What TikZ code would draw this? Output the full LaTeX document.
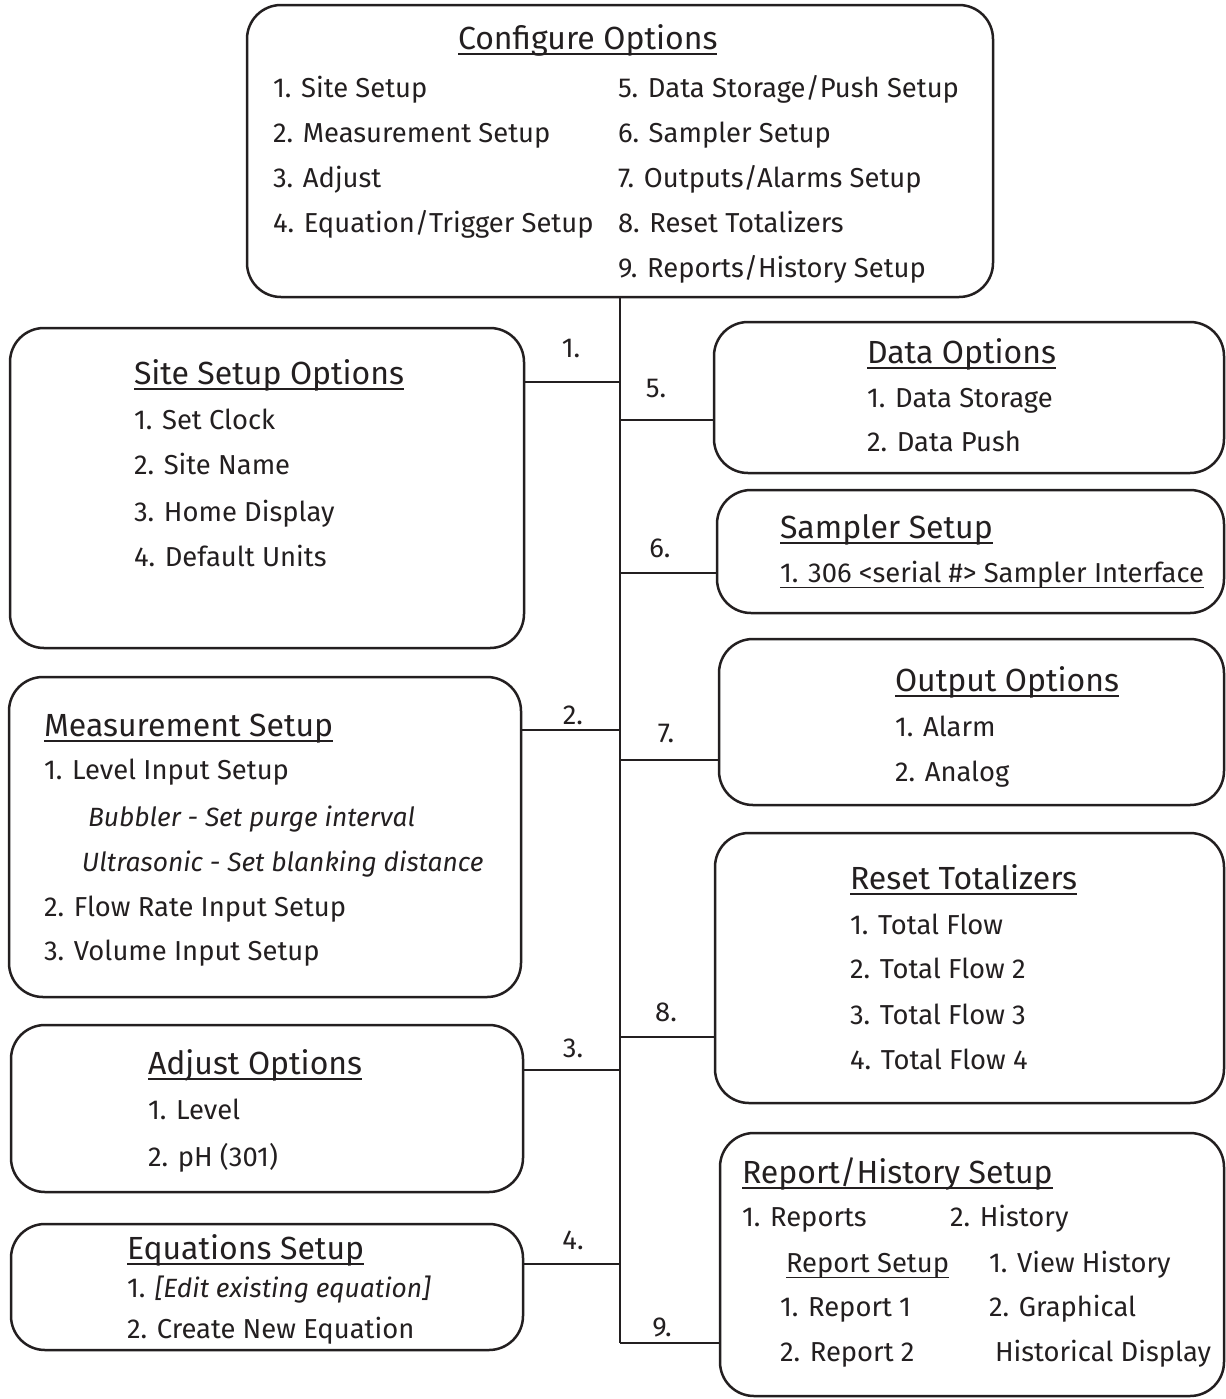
\documentclass[tikz,border=0pt]{standalone}
\usepackage{fontspec}
\setmainfont{Fira Sans}
\definecolor{ink}{HTML}{231F20}
\newcommand\myul[1]{\setbox0\hbox{#1}\rlap{\color{ink}\rule[-2.9pt]{\wd0}{0.75pt}}\box0}
\newcommand\bodyf{\fontsize{13.7}{16}\selectfont}
\newcommand\itf{\fontsize{13.2}{16}\selectfont\itshape}
\newcommand\ttlf{\fontsize{16}{18}\selectfont}
\tikzset{
  box/.style={draw=ink, line width=1.25pt, rounded corners=17pt, inner sep=0pt, outer sep=0pt},
  txt/.style={anchor=west, inner sep=0pt, outer sep=0pt, text height=9.4pt, text depth=0pt, font=\bodyf, text=ink},
  ttl/.style={anchor=west, inner sep=0pt, outer sep=0pt, text height=11pt, text depth=0pt, font=\ttlf, text=ink},
  lbl/.style={anchor=center, inner sep=0pt, outer sep=0pt, text height=9.4pt, text depth=0pt, font=\bodyf, text=ink},
  conn/.style={draw=ink, line width=1pt}
}
\begin{document}
\begin{tikzpicture}[x=0.5pt,y=-0.5pt]
\useasboundingbox (0,0) rectangle (1226,1399);
% boxes
\node[box, minimum width=373pt, minimum height=146pt] (cfg) at (620,151) {};
\node[box, minimum width=257pt, minimum height=160pt] (site) at (267,488) {};
\node[box, minimum width=256pt, minimum height=160pt] (meas) at (265,837) {};
\node[box, minimum width=256pt, minimum height=83.5pt] (adj) at (267,1108.5) {};
\node[box, minimum width=256pt, minimum height=63pt] (eq) at (267,1287) {};
\node[box, minimum width=255pt, minimum height=75.5pt] (data) at (969,397.5) {};
\node[box, minimum width=253.5pt, minimum height=61.5pt] (samp) at (970.5,551.5) {};
\node[box, minimum width=252.5pt, minimum height=83pt] (out) at (971.5,722) {};
\node[box, minimum width=254.5pt, minimum height=135pt] (reset) at (969.5,968) {};
\node[box, minimum width=252pt, minimum height=131.5pt] (rep) at (972,1264.5) {};
% trunk and junctions
\coordinate (tend) at (620,1343);
\coordinate (j1) at (620,382);
\coordinate (j2) at (620,730);
\coordinate (j3) at (620,1070);
\coordinate (j4) at (620,1264);
\coordinate (j5) at (620,420);
\coordinate (j6) at (620,573);
\coordinate (j7) at (620,760);
\coordinate (j8) at (620,1037);
\coordinate (j9) at (620,1343);
\draw[conn] (cfg.south) -- (tend);
\draw[conn] (site.east |- j1) -- (j1);
\draw[conn] (meas.east |- j2) -- (j2);
\draw[conn] (adj.east |- j3) -- (j3);
\draw[conn] (eq.east |- j4) -- (j4);
\draw[conn] (j5) -- (data.west |- j5);
\draw[conn] (j6) -- (samp.west |- j6);
\draw[conn] (j7) -- (out.west |- j7);
\draw[conn] (j8) -- (reset.west |- j8);
\draw[conn] (j9) -- (rep.west |- j9);
% labels
\node[lbl] (l1) at (571,348) {1.};
\node[lbl] (l2) at (573,715) {2.};
\node[lbl] (l3) at (573,1048) {3.};
\node[lbl] (l4) at (573,1240) {4.};
\node[lbl] (l5) at (656,388) {5.};
\node[lbl] (l6) at (660,548) {6.};
\node[lbl] (l7) at (666,733) {7.};
\node[lbl] (l8) at (666,1012) {8.};
\node[lbl] (l9) at (662,1327) {9.};
% configure
\node[ttl] (cfgt) at (458,38) {\myul{Configure Options}};
\node[txt] (c1) at (273,88) {1. Site Setup};
\node[txt] (c2) at (273,133) {2. Measurement Setup};
\node[txt] (c3) at (273,178) {3. Adjust};
\node[txt] (c4) at (273,223) {4. Equation/Trigger Setup};
\node[txt] (c5) at (618,88) {5. Data Storage/Push Setup};
\node[txt] (c6) at (618,133) {6. Sampler Setup};
\node[txt] (c7) at (618,178) {7. Outputs/Alarms Setup};
\node[txt] (c8) at (618,223) {8. Reset Totalizers};
\node[txt] (c9) at (618,268) {9. Reports/History Setup};
% site
\node[ttl] (sitet) at (134,373) {\myul{Site Setup Options}};
\node[txt] (s1) at (134,420) {1. Set Clock};
\node[txt] (s2) at (134,465) {2. Site Name};
\node[txt] (s3) at (134,512) {3. Home Display};
\node[txt] (s4) at (134,557) {4. Default Units};
% measurement
\node[ttl] (meast) at (44,725) {\myul{Measurement Setup}};
\node[txt] (m1) at (44,770) {1. Level Input Setup};
\node[txt, font=\itf] (m1a) at (88,817) {Bubbler - Set purge interval};
\node[txt, font=\itf] (m1b) at (82,862) {Ultrasonic - Set blanking distance};
\node[txt] (m2) at (44,907) {2. Flow Rate Input Setup};
\node[txt] (m3) at (44,951) {3. Volume Input Setup};
% adjust
\node[ttl] (adjt) at (148,1063) {\myul{Adjust Options}};
\node[txt] (a1) at (148,1110) {1. Level};
\node[txt] (a2) at (148,1157) {2. pH (301)};
% equations
\node[ttl] (eqt) at (127,1248) {\myul{Equations Setup}};
\node[txt] (e1) at (127,1288) {1. {\itf [Edit existing equation]}};
\node[txt] (e2) at (127,1329) {2. Create New Equation};
% data
\node[ttl] (datat) at (867,352) {\myul{Data Options}};
\node[txt] (d1) at (867,398) {1. Data Storage};
\node[txt] (d2) at (867,442) {2. Data Push};
% sampler
\node[ttl] (sampt) at (780,527) {\myul{Sampler Setup}};
\node[txt] (sp1) at (780,573) {\myul{1. 306 <serial \#> Sampler Interface}};
% output
\node[ttl] (outt) at (895,680) {\myul{Output Options}};
\node[txt] (o1) at (895,727) {1. Alarm};
\node[txt] (o2) at (895,772) {2. Analog};
% reset
\node[ttl] (resett) at (850,878) {\myul{Reset Totalizers}};
\node[txt] (r1) at (850,925) {1. Total Flow};
\node[txt] (r2) at (850,969) {2. Total Flow 2};
\node[txt] (r3) at (850,1015) {3. Total Flow 3};
\node[txt] (r4) at (850,1060) {4. Total Flow 4};
% report
\node[ttl] (rept) at (742,1172) {\myul{Report/History Setup}};
\node[txt] (p1) at (742,1217) {1. Reports};
\node[txt] (p2) at (950,1217) {2. History};
\node[txt] (p3) at (786,1263) {\myul{Report Setup}};
\node[txt] (p4) at (989,1263) {1. View History};
\node[txt] (p5) at (780,1307) {1. Report 1};
\node[txt] (p6) at (989,1307) {2. Graphical};
\node[txt] (p7) at (780,1352) {2. Report 2};
\node[txt] (p8) at (995,1352) {Historical Display};
\end{tikzpicture}
\end{document}
